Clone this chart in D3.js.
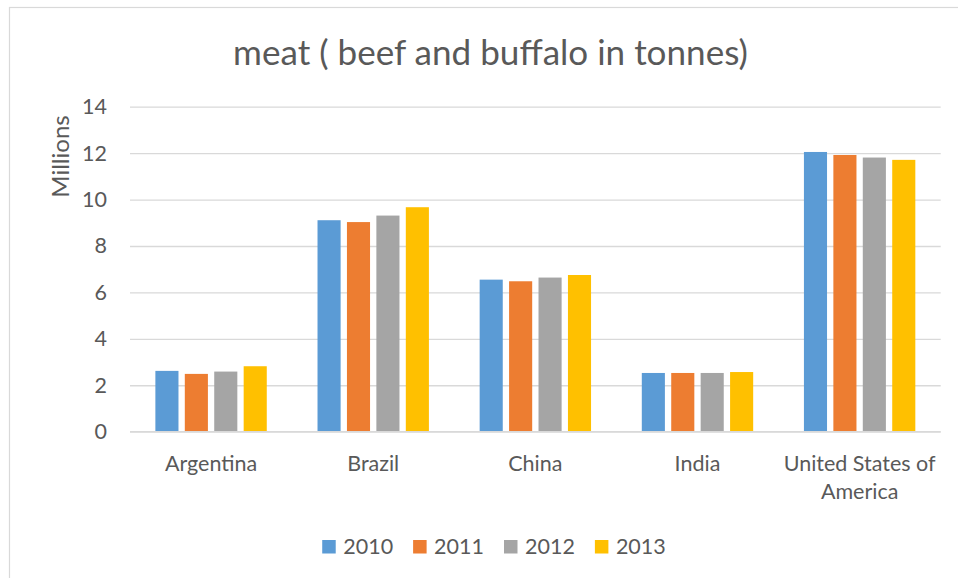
<!DOCTYPE html>
<html>
<head>
<meta charset="utf-8">
<script src="https://cdn.jsdelivr.net/npm/d3@7"></script>
<style>
  html, body { margin: 0; padding: 0; background: #fff; }
  svg { display: block; }
  text { font-family: Lato, "Open Sans", sans-serif; fill: #595959; }
</style>
</head>
<body>
<svg id="chart" width="958" height="578"></svg>
<script>
const categories = ["Argentina", "Brazil", "China", "India", "United States of America"];
const seriesNames = ["2010", "2011", "2012", "2013"];
const values2010 = [2.62, 9.11, 6.55, 2.53, 12.05];
const values2011 = [2.49, 9.03, 6.48, 2.53, 11.92];
const values2012 = [2.59, 9.31, 6.64, 2.53, 11.81];
const values2013 = [2.82, 9.67, 6.75, 2.57, 11.71];
const yTicks = [0, 2, 4, 6, 8, 10, 12, 14];
const titleText = "meat ( beef and buffalo in tonnes)";
const yAxisTitle = "Millions";
const colors = ["#5b9bd5", "#ed7d31", "#a5a5a5", "#ffc000"];

const seriesValues = [values2010, values2011, values2012, values2013];

const svg = d3.select("#chart");
const plot = { left: 130, right: 940.7, top: 106.7, bottom: 431.7 };

// outer border
svg.append("rect")
  .attr("x", 9.5).attr("y", 7.5)
  .attr("width", 1200).attr("height", 1200)
  .attr("fill", "none").attr("stroke", "#d9d9d9").attr("stroke-width", 1.2);

const x0 = d3.scaleBand().domain(categories)
  .range([plot.left, plot.right]).paddingInner(0.313).paddingOuter(0.1565);
const x1 = d3.scaleBand().domain(seriesNames)
  .range([0, x0.bandwidth()]).paddingInner(0.215).paddingOuter(0);
const y = d3.scaleLinear().domain([0, 14]).range([plot.bottom, plot.top]);

// gridlines + y labels
const yAxis = svg.append("g")
  .attr("transform", `translate(${plot.left},0)`)
  .call(d3.axisLeft(y).tickValues(yTicks).tickSize(-(plot.right - plot.left)).tickPadding(23));
yAxis.select(".domain").remove();
yAxis.selectAll(".tick line").attr("stroke", "#d9d9d9").attr("stroke-width", 1.3);
yAxis.selectAll(".tick text")
  .style("font-family", "Lato, 'Open Sans', sans-serif")
  .style("font-size", "21.5px").attr("fill", "#595959");

// bars
const groups = svg.append("g").selectAll("g")
  .data(categories).join("g")
  .attr("transform", d => `translate(${x0(d)},0)`);
groups.selectAll("rect")
  .data((d, i) => seriesNames.map((s, k) => ({ s, k, v: seriesValues[k][i] })))
  .join("rect")
  .attr("x", d => x1(d.s))
  .attr("width", x1.bandwidth())
  .attr("y", d => y(d.v))
  .attr("height", d => y(0) - y(d.v))
  .attr("fill", d => colors[d.k]);

// x axis line (baseline)
svg.append("line")
  .attr("x1", plot.left).attr("x2", plot.right)
  .attr("y1", y(0)).attr("y2", y(0))
  .attr("stroke", "#d9d9d9").attr("stroke-width", 1.3);

// x category labels via axis
const xAxis = svg.append("g")
  .attr("transform", `translate(0,${plot.bottom})`)
  .call(d3.axisBottom(x0).tickSize(0).tickPadding(0));
xAxis.select(".domain").remove();
xAxis.selectAll(".tick text").each(function (d) {
  const t = d3.select(this);
  t.text(null).attr("dy", null).attr("y", 0)
    .style("font-family", "Lato, 'Open Sans', sans-serif")
    .style("font-size", "21.5px").attr("fill", "#595959");
  const words = d.split(" ");
  const lines = [];
  let cur = [];
  const maxW = x0.step() - 2;
  const probe = t.append("tspan");
  words.forEach(w => {
    const test = cur.concat([w]).join(" ");
    probe.text(test);
    if (probe.node().getComputedTextLength() > maxW && cur.length) {
      lines.push(cur.join(" "));
      cur = [w];
    } else cur.push(w);
  });
  lines.push(cur.join(" "));
  probe.remove();
  lines.forEach((ln, i) => {
    t.append("tspan").attr("x", 0).attr("y", 39 + i * 28.3).text(ln);
  });
});

// y axis title
svg.append("text")
  .attr("transform", `translate(69,156.5) rotate(-90)`)
  .attr("text-anchor", "middle")
  .style("font-size", "24px")
  .text(yAxisTitle);

// chart title, fitted to target width
const title = svg.append("text")
  .attr("x", 490.5).attr("y", 65)
  .attr("text-anchor", "middle")
  .style("font-weight", 400)
  .style("font-size", "34px")
  .text(titleText);
const tw = title.node().getComputedTextLength();
title.style("font-size", (34 * 515 / tw) + "px");

// legend
const legend = svg.append("g");
let cx = 0;
seriesNames.forEach((s, i) => {
  const g = legend.append("g");
  g.append("rect").attr("x", 0).attr("y", -13.5).attr("width", 13.5).attr("height", 13.5).attr("fill", colors[i]);
  const tx = g.append("text").attr("x", 21).attr("y", 0).style("font-size", "21.5px").text(s);
  const w = 21 + tx.node().getComputedTextLength();
  g.attr("transform", `translate(${cx},0)`);
  cx += w + 20;
});
const totalW = cx - 20;
legend.attr("transform", `translate(${494 - totalW / 2},553.5)`);
</script>
</body>
</html>
